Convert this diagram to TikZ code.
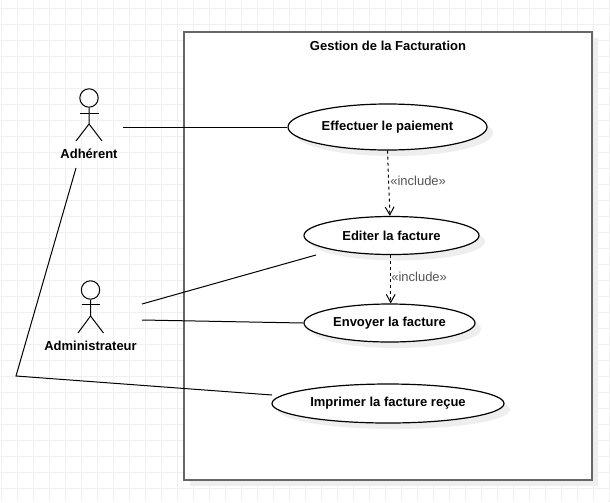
\documentclass[tikz,border=0pt]{standalone}
\usepackage{fontspec}
\setmainfont{Liberation Sans}
\usetikzlibrary{positioning,shapes.geometric,shadows,arrows.meta}
\definecolor{gridgray}{HTML}{F0F0F0}
\definecolor{framegray}{HTML}{666666}
\definecolor{shadegray}{HTML}{EEEEEE}
\definecolor{incgray}{HTML}{555555}
\begin{document}
\begin{tikzpicture}
[x=0.25mm,y=-0.25mm,line join=miter,
 gridline/.style={draw=gridgray,line width=0.25mm},
 frame/.style={rectangle,draw=framegray,line width=0.5mm,fill=white,minimum width=102mm,minimum height=112mm,inner sep=0mm,
  drop shadow={shadow xshift=1.5mm,shadow yshift=-1.5mm,fill=shadegray,opacity=1}},
 usecase/.style={ellipse,draw=black,line width=0.3mm,fill=white,inner sep=0mm,font=\fontsize{9.25}{11}\bfseries,
  drop shadow={shadow xshift=1.5mm,shadow yshift=-1.5mm,fill=shadegray,opacity=1}},
 title/.style={font=\fontsize{9.25}{11}\bfseries,inner sep=0mm},
 actorlabel/.style={font=\fontsize{9.25}{11}\bfseries,inner sep=0mm},
 inclabel/.style={font=\fontsize{9.25}{11}\selectfont,text=incgray,inner sep=0mm},
 assoc/.style={draw=black,line width=0.25mm},
 include/.style={draw=black,line width=0.25mm,dashed,dash pattern=on 0.75mm off 0.75mm,-{Straight Barb[length=2mm,width=2.2mm]}},
 head/.style={circle,draw=black,line width=0.25mm,minimum size=4.6mm,inner sep=0mm}]
\useasboundingbox (0,0) rectangle (610,502);
\fill[white] (0,0) rectangle (610,502);
% grid
\foreach \i in {0,...,38} \draw[gridline] ({16*\i+1},0) -- ({16*\i+1},502);
\foreach \i in {0,...,31} \draw[gridline] (0,{16*\i+8}) -- (610,{16*\i+8});
% system
\node[frame] (sys) at (388,256) {};
\node[title] (sysT) [on grid,below=2.4mm of sys.north] {Gestion de la Facturation};
% use cases
\node[usecase,minimum width=49.75mm,minimum height=11.5mm] (paie) at (387.5,127) {Effectuer le paiement};
\node[usecase,minimum width=43.75mm,minimum height=9.5mm] (edit) [on grid,below right=27.125mm and 1mm of paie] {Editer la facture};
\node[usecase,minimum width=42.75mm,minimum height=9.5mm] (envoi) [on grid,below left=21.875mm and 0.5mm of edit] {Envoyer la facture};
\node[usecase,minimum width=58mm,minimum height=9.75mm] (impr) [on grid,below left=20.125mm and 0.375mm of envoi] {Imprimer la facture reçue};
% actors
\node[head] (adh) at (89,98) {};
\draw[assoc] (80,113) -- (98.5,113);
\draw[assoc] (adh.south) -- (89,124) -- (76,141);
\draw[assoc] (89,124) -- (102,141);
\node[actorlabel] (adhL) [on grid,below=14mm of adh] {Adhérent};
\node[head] (adm) at (90.5,290) {};
\draw[assoc] (81.5,304.7) -- (100,304.7);
\draw[assoc] (adm.south) -- (90.5,316) -- (78,333);
\draw[assoc] (90.5,316) -- (103.5,333);
\node[actorlabel] (admL) [on grid,below=14mm of adm] {Administrateur};
% free ends
\coordinate (adhA) at (123,127);
\coordinate (adhB) at (76,168);
\coordinate (bend) at (16,376);
\coordinate (imprE) at (272,395);
\coordinate (admA) at (142,304);
\coordinate (editE) at (316,255);
\coordinate (admB) at (142,320);
% associations
\draw[assoc] (adhA) -- (paie.west);
\draw[assoc] (adhB) -- (bend) -- (imprE);
\draw[assoc] (admA) -- (editE);
\draw[assoc] (admB) -- (envoi.west);
% includes
\draw[include] (paie.south) -- ([xshift=-0.4mm]edit.north);
\draw[include] ([xshift=-0.2mm]edit.south) -- ([xshift=-0.2mm]edit.south |- envoi.north);
\node[inclabel,anchor=west] (incA) at (390,181) {«include»};
\node[inclabel,anchor=west] (incB) at (391,277) {«include»};
\end{tikzpicture}
\end{document}
